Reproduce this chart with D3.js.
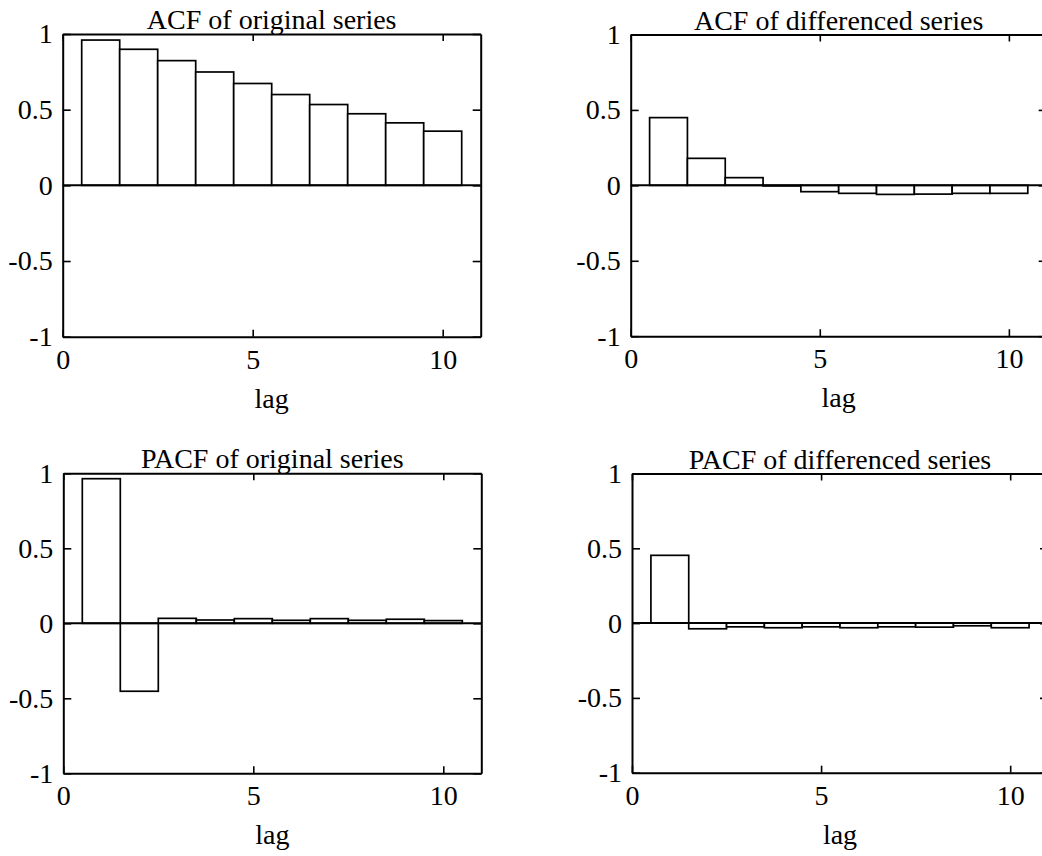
<!DOCTYPE html>
<html>
<head>
<meta charset="utf-8">
<script src="https://cdn.jsdelivr.net/npm/d3@7"></script>
<style>
  html, body { margin: 0; padding: 0; background: #fff; }
  svg { display: block; }
  svg text { font-family: "Liberation Serif", "Times New Roman", serif !important; fill: #000; }
</style>
</head>
<body>
<svg id="chart" width="1042" height="856"></svg>
<script>
// ---- data ----
const lags = [1, 2, 3, 4, 5, 6, 7, 8, 9, 10];
const acfOriginal = [0.960, 0.899, 0.824, 0.749, 0.673, 0.600, 0.534, 0.473, 0.413, 0.358];
const acfDifferenced = [0.449, 0.179, 0.051, -0.004, -0.042, -0.053, -0.060, -0.058, -0.053, -0.053];
const pacfOriginal = [0.964, -0.453, 0.033, 0.022, 0.031, 0.020, 0.031, 0.020, 0.027, 0.018];
const pacfDifferenced = [0.453, -0.038, -0.025, -0.031, -0.025, -0.031, -0.025, -0.027, -0.018, -0.031];
const titles = ["ACF of original series", "ACF of differenced series", "PACF of original series", "PACF of differenced series"];
const xTicks = [0, 5, 10];
const xTickLabels = ["0", "5", "10"];
const yTicks = [-1, -0.5, 0, 0.5, 1];
const yTickLabels = ["-1", "-0.5", "0", "0.5", "1"];
const xLabel = "lag";
const xDomain = [0, 11];
const yDomain = [-1, 1];

// ---- layout ----
const panels = [
  { values: acfOriginal,     title: titles[0], left: 62.7, top: 34,  w: 418, h: 302.7 },
  { values: acfDifferenced,  title: titles[1], left: 630.7, top: 34.5, w: 416, h: 301.7 },
  { values: pacfOriginal,    title: titles[2], left: 63.3, top: 473.3, w: 418, h: 300 },
  { values: pacfDifferenced, title: titles[3], left: 632, top: 473.5, w: 416, h: 299.2 }
];
const FS = 28;
const FONT = "'Liberation Serif', 'Times New Roman', serif";

const svg = d3.select("#chart");

panels.forEach(p => {
  const g = svg.append("g").attr("transform", `translate(${p.left},${p.top})`);
  const x = d3.scaleLinear().domain(xDomain).range([0, p.w]);
  const y = d3.scaleLinear().domain(yDomain).range([p.h, 0]);

  // bars
  g.append("g").selectAll("rect")
    .data(lags.map((l, i) => ({ lag: l, v: p.values[i] })))
    .join("rect")
    .attr("x", d => x(d.lag - 0.5))
    .attr("width", d => x(d.lag + 0.5) - x(d.lag - 0.5))
    .attr("y", d => y(Math.max(0, d.v)))
    .attr("height", d => Math.abs(y(d.v) - y(0)))
    .attr("fill", "#fff")
    .attr("stroke", "#000")
    .attr("stroke-width", 1.7);

  // zero line
  g.append("line")
    .attr("x1", x(xDomain[0])).attr("x2", x(xDomain[1]))
    .attr("y1", y(0)).attr("y2", y(0))
    .attr("stroke", "#000").attr("stroke-width", 2);

  const fmtX = d => xTickLabels[xTicks.indexOf(d)];
  const fmtY = d => yTickLabels[yTicks.indexOf(d)];

  const axB = g.append("g").attr("transform", `translate(0,${p.h})`)
    .call(d3.axisBottom(x).tickValues(xTicks).tickFormat(fmtX).tickSizeInner(-7).tickSizeOuter(0).tickPadding(12));
  const axT = g.append("g")
    .call(d3.axisTop(x).tickValues(xTicks).tickFormat("").tickSizeInner(-7).tickSizeOuter(0));
  const axL = g.append("g")
    .call(d3.axisLeft(y).tickValues(yTicks).tickFormat(fmtY).tickSizeInner(-8).tickSizeOuter(0).tickPadding(10));
  const axR = g.append("g").attr("transform", `translate(${p.w},0)`)
    .call(d3.axisRight(y).tickValues(yTicks).tickFormat("").tickSizeInner(-8).tickSizeOuter(0));

  [axB, axT, axL, axR].forEach(a => {
    a.attr("font-family", null).attr("font-size", null);
    a.select(".domain").attr("stroke", "#000").attr("stroke-width", 2);
    a.selectAll(".tick line").attr("stroke", "#000").attr("stroke-width", 1.6);
    a.selectAll("text").style("font-family", FONT).style("font-size", FS + "px").attr("fill", "#000");
  });

  g.append("text")
    .attr("x", p.w / 2).attr("y", -5)
    .attr("text-anchor", "middle")
    .style("font-family", FONT).style("font-size", FS + "px")
    .text(p.title);

  g.append("text")
    .attr("x", p.w / 2).attr("y", p.h + 71)
    .attr("text-anchor", "middle")
    .style("font-family", FONT).style("font-size", FS + "px")
    .text(xLabel);
});
</script>
</body>
</html>
